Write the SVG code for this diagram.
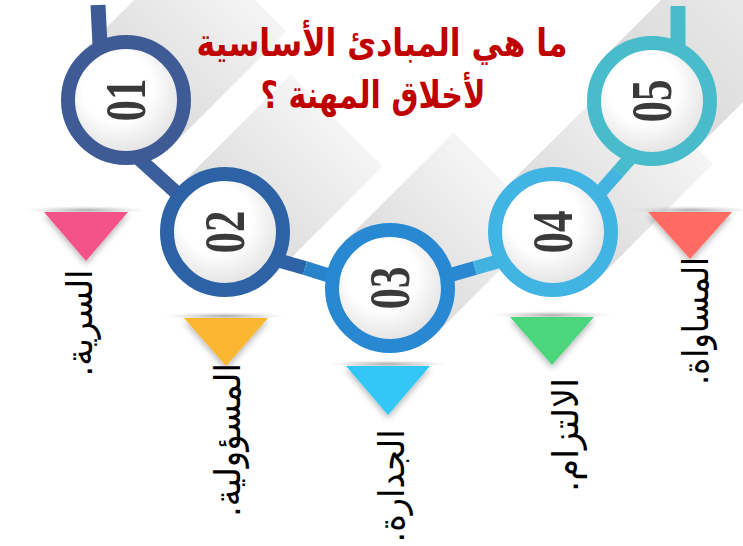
<svg xmlns="http://www.w3.org/2000/svg" width="743" height="546" viewBox="0 0 743 546">
<style>
.title{font-family:"DejaVu Sans",sans-serif;font-weight:bold;font-size:38px;fill:#c00000;text-anchor:middle}
.num{font-family:"Liberation Serif",serif;font-weight:bold;font-size:58px;fill:#3a3a3a;text-anchor:middle}
.lbl{font-family:"DejaVu Sans",sans-serif;font-size:36px;fill:#000;text-anchor:middle}
.ring{fill:url(#ball);stroke-width:14}
.conn{stroke-width:14;fill:none}
.stem{stroke-width:15;fill:none}
.band{fill:url(#band)}
.bar{fill:url(#bar)}
.tri{filter:url(#tshadow)}
</style>
<defs>
<linearGradient id="band" x1="0" y1="0" x2="1" y2="0">
<stop offset="0" stop-color="#dadada"/>
<stop offset="1" stop-color="#f5f5f5"/>
</linearGradient>
<radialGradient id="ball" cx="0.45" cy="0.42" r="0.6" fx="0.4" fy="0.35">
<stop offset="0.5" stop-color="#ffffff"/>
<stop offset="1" stop-color="#dedede"/>
</radialGradient>
<radialGradient id="bar" cx="0.5" cy="0.5" r="0.5">
<stop offset="0" stop-color="#9a9a9a" stop-opacity="0.8"/>
<stop offset="1" stop-color="#cccccc" stop-opacity="0"/>
</radialGradient>
<filter id="tshadow" x="-30%" y="-30%" width="160%" height="170%">
<feDropShadow dx="0" dy="3" stdDeviation="3" flood-color="#000" flood-opacity="0.3"/>
</filter>
</defs>

<g id="bands">
<rect class="band" x="0" y="-65" width="162" height="130" transform="translate(126,100) rotate(-45)"/>
<rect class="band" x="0" y="-65" width="158" height="130" transform="translate(225,232) rotate(-45)"/>
<rect class="band" x="0" y="-65" width="155" height="130" transform="translate(390,288) rotate(-45)"/>
<rect class="band" x="0" y="-65" width="161" height="130" transform="translate(553,232) rotate(-45)"/>
<rect class="band" x="0" y="-65" width="250" height="130" transform="translate(652,101) rotate(-45)"/>
</g>

<g id="title">
<text class="title" x="382" y="56" direction="rtl" textLength="371" lengthAdjust="spacingAndGlyphs">ما هي المبادئ الأساسية</text>
<text class="title" x="373" y="108" direction="rtl" textLength="225" lengthAdjust="spacingAndGlyphs">لأخلاق المهنة ؟</text>
</g>

<g id="connectors">
<line class="conn" x1="136" y1="156" x2="190" y2="205" stroke="#3a5e9c"/>
<line class="conn" x1="270" y1="258" x2="305" y2="268" stroke="#2d63a6"/>
<line class="conn" x1="305" y1="268" x2="340" y2="279" stroke="#2a84cc"/>
<line class="conn" x1="440" y1="278" x2="475" y2="268" stroke="#2a88d0"/>
<line class="conn" x1="475" y1="268" x2="510" y2="258" stroke="#42b2e0"/>
<line class="conn" x1="596" y1="197" x2="618" y2="172" stroke="#43b3df"/>
<line class="conn" x1="618" y1="172" x2="640" y2="147" stroke="#48bbcc"/>
</g>

<g id="node-01">
<line class="stem" x1="98" y1="5" x2="100" y2="45" stroke="#3e5b95"/>
<circle class="ring" cx="126" cy="100" r="58" stroke="#3e5b95"/>
<text class="num" y="19" transform="translate(126,100) rotate(-90) scale(0.74,1)">01</text>
</g>
<g id="node-02">
<circle class="ring" cx="225" cy="232" r="58" stroke="#2d63a6"/>
<text class="num" y="19" transform="translate(225,232) rotate(-90) scale(0.74,1)">02</text>
</g>
<g id="node-03">
<circle class="ring" cx="390" cy="288" r="58" stroke="#2988d2"/>
<text class="num" y="19" transform="translate(390,288) rotate(-90) scale(0.74,1)">03</text>
</g>
<g id="node-04">
<circle class="ring" cx="553" cy="232" r="58" stroke="#42b4e3"/>
<text class="num" y="19" transform="translate(553,232) rotate(-90) scale(0.74,1)">04</text>
</g>
<g id="node-05">
<line class="stem" x1="678" y1="6" x2="678" y2="45" stroke="#48bccb"/>
<circle class="ring" cx="652" cy="101" r="58" stroke="#48bccb"/>
<text class="num" y="19" transform="translate(652,101) rotate(-90) scale(0.74,1)">05</text>
</g>

<g id="item-1">
<ellipse class="bar" cx="86" cy="210" rx="62" ry="4"/>
<polygon class="tri" points="44,212 128,212 86,261" fill="#f4538a"/>
<text class="lbl" direction="rtl" transform="translate(92,323) rotate(-90)" textLength="107" lengthAdjust="spacingAndGlyphs">السرية.</text>
</g>
<g id="item-2">
<ellipse class="bar" cx="225" cy="316" rx="62" ry="4"/>
<polygon class="tri" points="184,318 268,318 226,366" fill="#fbb631"/>
<text class="lbl" direction="rtl" transform="translate(240,440) rotate(-90)" textLength="154" lengthAdjust="spacingAndGlyphs">المسؤولية.</text>
</g>
<g id="item-3">
<ellipse class="bar" cx="388" cy="364" rx="62" ry="4"/>
<polygon class="tri" points="346,366 430,366 388,415" fill="#31c7f5"/>
<text class="lbl" direction="rtl" transform="translate(404,486) rotate(-90)" textLength="113" lengthAdjust="spacingAndGlyphs">الجدارة.</text>
</g>
<g id="item-4">
<ellipse class="bar" cx="552" cy="315" rx="62" ry="4"/>
<polygon class="tri" points="510,317 594,317 552,365" fill="#4cd57b"/>
<text class="lbl" direction="rtl" transform="translate(578,435) rotate(-90)" textLength="114" lengthAdjust="spacingAndGlyphs">الالتزام.</text>
</g>
<g id="item-5">
<ellipse class="bar" cx="690" cy="210" rx="62" ry="4"/>
<polygon class="tri" points="648,212 732,212 690,259" fill="#ff6b63"/>
<text class="lbl" direction="rtl" transform="translate(708,321) rotate(-90)" textLength="128" lengthAdjust="spacingAndGlyphs">المساواة.</text>
</g>
</svg>
